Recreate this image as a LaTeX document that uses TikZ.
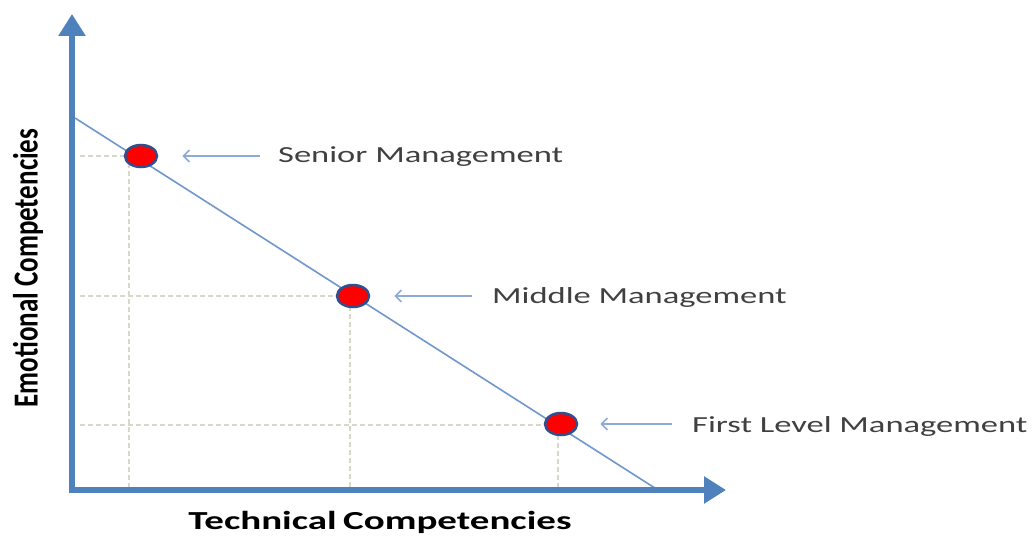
\documentclass[tikz,border=0pt]{standalone}
\usepackage{fontspec}
\setmainfont{Carlito}
\usetikzlibrary{arrows.meta,shapes.geometric}
\definecolor{axisblue}{HTML}{4F81BD}
\definecolor{lineblue}{HTML}{7096CC}
\definecolor{arrblue}{HTML}{8EAAD8}
\definecolor{guide}{HTML}{D8D8C6}
\definecolor{dotedge}{HTML}{2F4F8F}
\definecolor{labgray}{HTML}{404040}
\tikzset{
  axis/.style={line width=6pt, axisblue, -{Triangle[width=26pt,length=22pt]}},
  diag/.style={line width=1.6pt, lineblue},
  guideline/.style={line width=1.8pt, guide, dash pattern=on 5pt off 3pt},
  dot/.style={ellipse, minimum width=32pt, minimum height=22pt, inner sep=0pt, fill=red, draw=dotedge, line width=2.5pt},
  pointer/.style={line width=1.6pt, arrblue, -{Straight Barb[length=6pt,width=12pt,line width=1.6pt]}},
  lab/.style={anchor=west, inner sep=0pt, text=labgray, font=\fontsize{23}{23}\selectfont},
  axlab/.style={inner sep=0pt, text=black, font=\bfseries\fontsize{26}{26}\selectfont}
}
\begin{document}
\begin{tikzpicture}[x=1pt,y=-1pt]
\useasboundingbox (0,0) rectangle (1035,535);
% guide lines
\coordinate (sx) at (80,156);
\coordinate (mx) at (80,296);
\coordinate (fx) at (80,425);
\coordinate (sb) at (129,490);
\coordinate (mb) at (350,490);
\coordinate (fb) at (558,490);
\draw[guideline] (sx) -- (129,156) -- (sb);
\draw[guideline] (mx) -- (350,296) -- (mb);
\draw[guideline] (fx) -- (558,425) -- (fb);
% diagonal
\coordinate (d0) at (75,118);
\coordinate (d1) at (658,490);
\draw[diag] (d0) -- (d1);
% axes
\coordinate (o) at (72,490);
\coordinate (ytip) at (72,14);
\coordinate (xtip) at (726,490);
\draw[axis] ([yshift=3pt]o) -- (ytip);
\draw[axis] ([xshift=-3pt]o) -- (xtip);
% dots
\node[dot] (sen) at (141,156) {};
\node[dot] (mid) at (353,296) {};
\node[dot] (fir) at (561,424) {};
% labels
\node[lab] (senl) at (278,157) {\scalebox{1.5}[1]{Senior Management}};
\node[lab] (midl) at (492,297) {\scalebox{1.5}[1]{Middle Management}};
\node[lab] (firl) at (692,426) {\scalebox{1.5}[1]{First Level Management}};
\draw[pointer] ([xshift=-18pt]senl.west |- sen) -- ([xshift=24pt]sen.east);
\draw[pointer] ([xshift=-20pt]midl.west |- mid) -- ([xshift=24pt]mid.east);
\draw[pointer] ([xshift=-20pt]firl.west |- fir) -- ([xshift=22pt]fir.east);
% axis labels
\node[axlab] (xl) at (380,522) {\scalebox{1.5}[1]{Technical\,Competencies}};
\node[axlab, rotate=90, font=\bfseries\fontsize{27}{27}\selectfont] (yl) at (28,268) {\scalebox{1}[1.3]{Emotional Competencies}};
\end{tikzpicture}
\end{document}
